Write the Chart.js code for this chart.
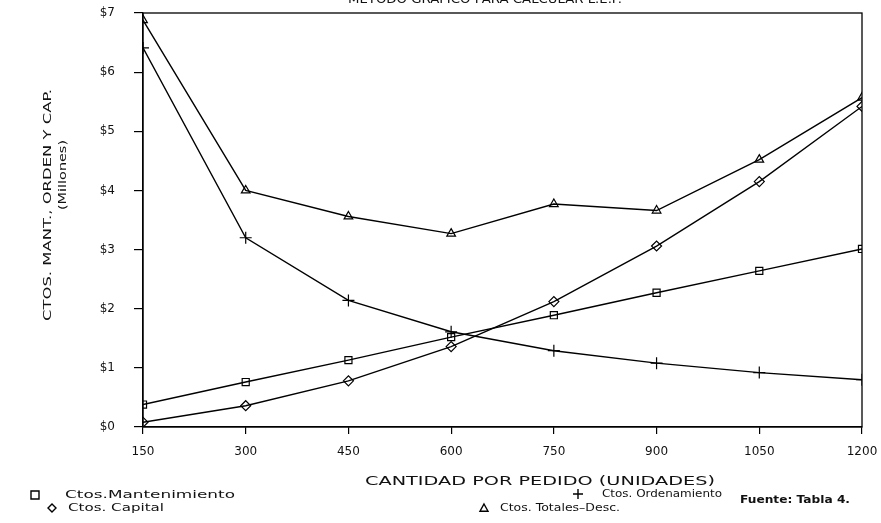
<!DOCTYPE html>
<html>
<head>
<meta charset="utf-8">
<script src="https://cdn.jsdelivr.net/npm/chart.js@4.4.1/dist/chart.umd.min.js"></script>
<style>
  html, body { margin: 0; padding: 0; background: #fff; }
  canvas { display: block; }
</style>
</head>
<body>
<canvas id="lepChart" width="881" height="523"></canvas>
<script>
// Datos (millones)
const cantidades = [150, 300, 450, 600, 750, 900, 1050, 1200];
const ctosMantenimiento = [0.38, 0.76, 1.13, 1.52, 1.89, 2.27, 2.64, 3.01];
const ctosOrdenamiento = [6.41, 3.20, 2.14, 1.61, 1.29, 1.08, 0.92, 0.80];
const ctosCapital = [0.08, 0.36, 0.78, 1.36, 2.12, 3.06, 4.15, 5.42];
const ctosTotales = [6.88, 4.00, 3.56, 3.27, 3.77, 3.66, 4.52, 5.57];
const yTickLabels = ['$0', '$1', '$2', '$3', '$4', '$5', '$6', '$7'];

const FONT = '"DejaVu Sans", sans-serif';

function puntos(valores) {
    return cantidades.map((c, i) => ({ x: c, y: valores[i] }));
}

function serie(label, valores, estilo, radio) {
    return {
        label: label,
        data: puntos(valores),
        borderColor: '#000',
        backgroundColor: 'transparent',
        borderWidth: 1.4,
        pointStyle: estilo,
        pointRadius: radio,
        pointBorderWidth: 1.2,
        pointBorderColor: '#000',
        pointBackgroundColor: 'transparent',
        tension: 0
    };
}

// Texto estirado a un ancho dado (centrado en x,y)
function texto(ctx, str, x, y, ancho, size, opts) {
    opts = opts || {};
    ctx.save();
    ctx.font = (opts.bold ? 'bold ' : '') + size + 'px ' + FONT;
    ctx.fillStyle = '#111';
    ctx.textBaseline = 'middle';
    ctx.textAlign = 'left';
    const w = ctx.measureText(str).width;
    ctx.translate(x, y);
    if (opts.rot) ctx.rotate(-Math.PI / 2);
    ctx.scale(ancho / w, 1);
    ctx.fillText(str, -w / 2, 0);
    ctx.restore();
}

function simbolo(ctx, tipo, x, y, r) {
    ctx.save();
    ctx.strokeStyle = '#000';
    ctx.lineWidth = 1.4;
    ctx.beginPath();
    if (tipo === 'rect') {
        ctx.rect(x - r, y - r, 2 * r, 2 * r);
    } else if (tipo === 'rectRot') {
        ctx.moveTo(x, y - r); ctx.lineTo(x + r, y); ctx.lineTo(x, y + r); ctx.lineTo(x - r, y); ctx.closePath();
    } else if (tipo === 'cross') {
        ctx.moveTo(x - r, y); ctx.lineTo(x + r, y); ctx.moveTo(x, y - r); ctx.lineTo(x, y + r);
    } else if (tipo === 'triangle') {
        ctx.moveTo(x, y - r); ctx.lineTo(x + r, y + r * 0.8); ctx.lineTo(x - r, y + r * 0.8); ctx.closePath();
    }
    ctx.stroke();
    ctx.restore();
}

const decoracion = {
    id: 'decoracion',
    afterDraw(chart) {
        const ctx = chart.ctx;
        const a = chart.chartArea;
        // marco
        ctx.save();
        ctx.strokeStyle = '#000';
        ctx.lineWidth = 1.3;
        ctx.strokeRect(a.left, a.top, a.right - a.left, a.bottom - a.top);
        ctx.restore();

        // titulo (cortado arriba)
        texto(ctx, 'METODO GRAFICO PARA CALCULAR L.E.P.', 485, 0, 274, 13);

        // titulos de ejes
        texto(ctx, 'CTOS. MANT., ORDEN Y CAP.', 48, 205, 232, 11, { rot: true });
        texto(ctx, '(Millones)', 63, 175, 70, 11, { rot: true });
        texto(ctx, 'CANTIDAD POR PEDIDO (UNIDADES)', 540, 482, 350, 12);

        // leyenda
        simbolo(ctx, 'rect', 35, 495, 4);
        texto(ctx, 'Ctos.Mantenimiento', 150, 495, 170, 11);
        simbolo(ctx, 'rectRot', 52, 508, 4);
        texto(ctx, 'Ctos. Capital', 116, 508, 96, 11);
        simbolo(ctx, 'cross', 578, 494, 5);
        texto(ctx, 'Ctos. Ordenamiento', 662, 494, 120, 11);
        simbolo(ctx, 'triangle', 484, 508, 4);
        texto(ctx, 'Ctos. Totales\u2013Desc.', 560, 508, 120, 11);
        texto(ctx, 'Fuente: Tabla 4.', 795, 500, 110, 11, { bold: true });
    }
};

new Chart(document.getElementById('lepChart'), {
    type: 'line',
    data: {
        datasets: [
            serie('Ctos.Mantenimiento', ctosMantenimiento, 'rect', 5),
            serie('Ctos. Ordenamiento', ctosOrdenamiento, 'cross', 6),
            serie('Ctos. Capital', ctosCapital, 'rectRot', 5),
            serie('Ctos. Totales-Desc.', ctosTotales, 'triangle', 5)
        ]
    },
    options: {
        responsive: false,
        animation: false,
        layout: { padding: { left: 0, top: 13, right: 19, bottom: 0 } },
        plugins: {
            legend: { display: false },
            tooltip: { enabled: false }
        },
        scales: {
            x: {
                type: 'linear',
                min: 150,
                max: 1200,
                afterFit(scale) {
                    scale.height = 96;
                    scale.paddingLeft = 0;
                    scale.paddingRight = 0;
                },
                afterBuildTicks(scale) {
                    scale.ticks = cantidades.map(v => ({ value: v }));
                },
                border: { display: true, color: '#000', width: 1.3 },
                grid: { drawOnChartArea: false, drawTicks: true, tickLength: 7, color: '#000', lineWidth: 1.2 },
                ticks: {
                    color: '#111',
                    font: { family: FONT, size: 12 },
                    padding: 11,
                    maxRotation: 0,
                    autoSkip: false,
                    callback: (v) => String(v)
                }
            },
            y: {
                min: 0,
                max: 7,
                afterFit(scale) {
                    scale.width = 143;
                    scale.paddingTop = 0;
                    scale.paddingBottom = 0;
                },
                border: { display: true, color: '#000', width: 1.3 },
                grid: { drawOnChartArea: false, drawTicks: true, tickLength: 9, color: '#000', lineWidth: 1.2 },
                ticks: {
                    stepSize: 1,
                    color: '#111',
                    font: { family: FONT, size: 12 },
                    padding: 19,
                    callback: (v) => yTickLabels[v]
                }
            }
        }
    },
    plugins: [decoracion]
});
</script>
</body>
</html>
